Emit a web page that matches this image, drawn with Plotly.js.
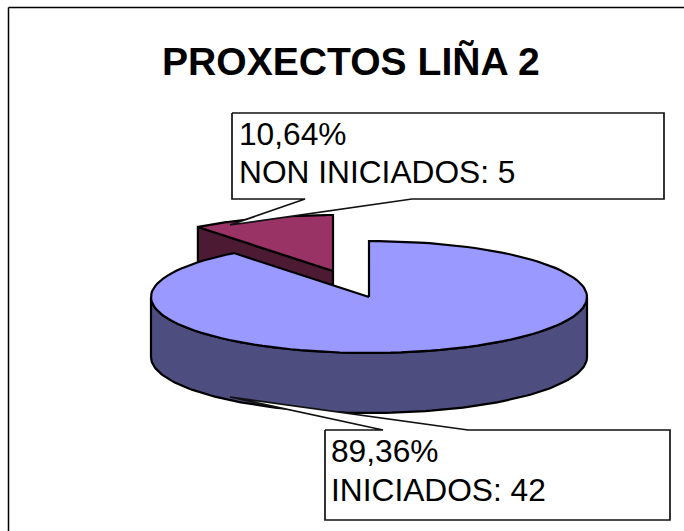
<!DOCTYPE html>
<html><head><meta charset="utf-8">
<script src="https://cdn.plot.ly/plotly-3.0.1.min.js"></script>
<style>html,body{margin:0;padding:0;background:#fff}#c{width:684px;height:531px}</style>
</head><body><div id="c"></div>
<script>
const categories = ["INICIADOS", "NON INICIADOS"];
const values = [42, 5];
const chartTitle = "PROXECTOS LIÑA 2";

const total = values.reduce((a, b) => a + b, 0);
const pct = values.map(v => (v / total * 100).toFixed(2).replace(".", ",") + "%");

// projection of the tilted pie
const cx = 369, cy = 297, rx = 218, ry = 56, depth = 60;
const offX = -36, offY = -26;
const endAngle = values[0] / total * 2 * Math.PI;
const pt = (a, ox, oy, d) => [cx + ox + rx * Math.sin(a), cy + oy - ry * Math.cos(a) + d];
function arc(a0, a1, ox, oy, d) {
  const n = 120, out = [];
  for (let i = 0; i <= n; i++) out.push(pt(a0 + (a1 - a0) * i / n, ox, oy, d));
  return out;
}
function poly(points, fill, lw, color) {
  return {x: points.map(p => p[0]), y: points.map(p => p[1]), type: "scatter", mode: "lines",
    fill: "toself", fillcolor: fill, line: {color: color || "#000", width: lw}, hoverinfo: "skip", showlegend: false};
}
const C = [cx, cy], C2 = [cx + offX, cy + offY];
const sA = pt(endAngle, offX, offY, 0);
const traces = [];
// small slice wall + top
traces.push(poly([C2, sA, [sA[0], sA[1] + depth], [C2[0], C2[1] + depth], C2], "#4d1a33", 2.2));
traces.push(poly([C2, ...arc(endAngle, 2 * Math.PI, offX, offY, 0), C2], "#993366", 2.2));
// large slice wall + top
const wallTop = arc(Math.PI / 2, 1.5 * Math.PI, 0, 0, 0);
traces.push(poly([...wallTop, ...arc(1.5 * Math.PI, Math.PI / 2, 0, 0, depth), wallTop[0]], "#4d4d80", 2.2));
traces.push(poly([C, ...arc(0, endAngle, 0, 0, 0), C], "#9999ff", 2.2));
// callouts
traces.push(poly([[232,113],[664,113],[664,199],[412,199],[230,225],[305,199],[232,199],[232,113]], "#ffffff", 1.7, "#111"));
traces.push(poly([[325,430],[383,430],[230,397],[468,430],[670,430],[670,520],[325,520],[325,430]], "#ffffff", 1.7, "#111"));

const txt = (x, y, text, size, bold) => ({xref: "x", yref: "y", x, y, text: bold ? "<b>" + text + "</b>" : text,
  showarrow: false, xanchor: bold ? "center" : "left", yanchor: "middle", align: "left",
  font: {family: "Liberation Sans, Arial, sans-serif", size, color: "#000"}, borderpad: 0});

Plotly.newPlot("c", traces, {
  width: 684, height: 531, margin: {l: 0, r: 0, t: 0, b: 0},
  paper_bgcolor: "#fff", plot_bgcolor: "#fff", showlegend: false,
  xaxis: {range: [0, 684], visible: false, fixedrange: true},
  yaxis: {range: [531, 0], visible: false, fixedrange: true},
  shapes: [
    {type: "line", xref: "x", yref: "y", x0: 8.5, y0: 7.5, x1: 684, y1: 7.5, line: {color: "#000", width: 1.5}, layer: "below"},
    {type: "line", xref: "x", yref: "y", x0: 8.5, y0: 7.5, x1: 8.5, y1: 531, line: {color: "#000", width: 1.5}, layer: "below"}
  ],
  annotations: [
    txt(351, 61, chartTitle, 39.1, true),
    txt(238, 134, pct[1], 31.7),
    txt(238, 172, categories[1] + ": " + values[1], 31.7),
    txt(330, 451, pct[0], 31.7),
    txt(330, 490, categories[0] + ": " + values[0], 31.7)
  ]
}, {staticPlot: true, displayModeBar: false});
</script></body></html>
